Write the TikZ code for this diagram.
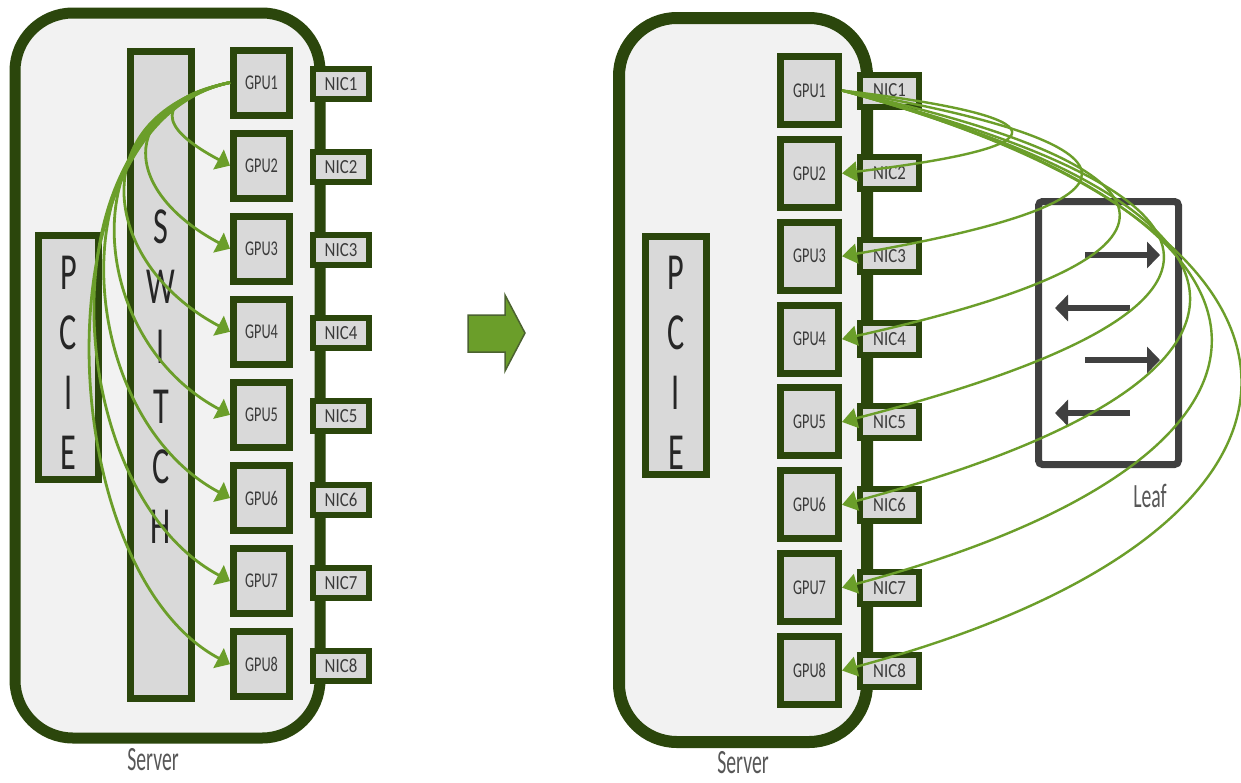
\documentclass[tikz,border=0pt]{standalone}
\usepackage{fontspec}
\setmainfont{Carlito}
\newfontfamily\gpuf[FakeStretch=0.68]{Carlito}
\newfontfamily\nicf[FakeStretch=0.84]{Carlito}
\newfontfamily\lblf[FakeStretch=0.58]{Carlito}
\newfontfamily\bigf[FakeStretch=0.62]{Carlito}
\usetikzlibrary{arrows.meta}
\definecolor{dg}{RGB}{43,70,12}
\definecolor{gr}{RGB}{107,158,42}
\definecolor{boxfill}{RGB}{217,217,217}
\definecolor{srvfill}{RGB}{242,242,242}
\definecolor{txt}{RGB}{58,58,58}
\definecolor{leafc}{RGB}{64,64,64}
\begin{document}
\begin{tikzpicture}[x=1pt,y=-1pt,
  srv/.style={draw=dg, fill=srvfill, rounded corners=58pt, inner sep=0pt},
  box/.style={draw=dg, fill=boxfill, inner sep=0pt, text=txt},
  gpuL/.style={box, line width=7pt, minimum width=56pt, minimum height=65pt, font=\gpuf\fontsize{21}{21}\selectfont},
  nicL/.style={box, line width=6pt, minimum width=56pt, minimum height=30pt, font=\nicf\fontsize{20}{20}\selectfont},
  gpuR/.style={box, line width=7pt, minimum width=58pt, minimum height=68pt, font=\gpuf\fontsize{21}{21}\selectfont},
  nicR/.style={box, line width=6pt, minimum width=59pt, minimum height=32pt, font=\nicf\fontsize{20}{20}\selectfont},
  tall/.style={box, line width=7pt},
  bigtxt/.style={align=center, text=black!85, inner sep=0pt, font=\bigf\fontsize{52}{60}\selectfont},
  lbl/.style={text=txt!85, inner sep=0pt, font=\lblf\fontsize{34}{34}\selectfont},
  gcurveL/.style={draw=gr, line width=2.8pt, -{Triangle[length=13pt, width=22pt]}},
  gcurveR/.style={draw=gr, line width=2.4pt, -{Triangle[length=15pt, width=20pt]}},
  leafarrow/.style={draw=leafc, line width=6pt, -{Triangle[length=13pt, width=26pt]}}
]
\useasboundingbox (0,0) rectangle (1241,782);
\fill[white] (0,0) rectangle (1241,782);

% ---------------- left server ----------------
\node[srv, line width=11pt, minimum width=305pt, minimum height=725pt] (srvL) at (167.5,375.5) {};
\node[tall, minimum width=60pt, minimum height=244pt] (pcieL) at (68.5,357.5) {};
\node[bigtxt] (pcieLt) at (68.5,363) {P\\C\\I\\E};
\node[tall, minimum width=61pt, minimum height=647pt] (sw) at (161,375) {};
\node[bigtxt] (swt) at (161,377) {S\\W\\I\\T\\C\\H};
\foreach \i in {1,...,8} {
  \pgfmathsetmacro\yl{82.5+83.1*(\i-1)}
  \node[gpuL] (lg\i) at (261.5,\yl) {GPU\i};
  \node[nicL] (ln\i) at (341,\yl+1.5) {NIC\i};
}
\foreach \i/\h in {2/81,3/119,4/150,5/164,6/179,7/193,8/200}
  \draw[gcurveL] (lg1.west) .. controls +(-0.978*\h,0.208*\h) and +(-0.883*\h,-0.469*\h) .. (lg\i.west);
\node[lbl] (srvLl) at (153,760) {Server};

% ---------------- middle arrow ----------------
\draw[fill=gr, draw=dg!85, line width=1.5pt] (468,315) -- (505,315) -- (505,295) -- (525,333) -- (505,371) -- (505,352) -- (468,352) -- cycle;

% ---------------- right server ----------------
\node[srv, line width=12pt, minimum width=248pt, minimum height=724pt] (srvR) at (743,380) {};
\node[tall, minimum width=61pt, minimum height=238pt] (pcieR) at (676,355.5) {};
\node[bigtxt] (pcieRt) at (676,363) {P\\C\\I\\E};
\foreach \i in {1,...,8} {
  \pgfmathsetmacro\yr{90.5+82.86*(\i-1)}
  \node[gpuR] (rg\i) at (809.5,\yr) {GPU\i};
  \node[nicR] (rn\i) at (889.5,\yr) {NIC\i};
}
\node[draw=leafc, line width=7pt, rounded corners=4pt, minimum width=140pt, minimum height=263pt, inner sep=0pt] (leaf) at (1108.5,333) {};
\draw[leafarrow] ([shift={(-23.5,-78)}]leaf.center) -- ([shift={(51.5,-78)}]leaf.center);
\draw[leafarrow] ([shift={(21.5,-25)}]leaf.center) -- ([shift={(-53.5,-25)}]leaf.center);
\draw[leafarrow] ([shift={(-23.5,27)}]leaf.center) -- ([shift={(51.5,27)}]leaf.center);
\draw[leafarrow] ([shift={(21.5,80)}]leaf.center) -- ([shift={(-53.5,80)}]leaf.center);
\node[lbl] (leafl) at (1150,496) {Leaf};
% i / h / sin(angle) / cos(angle)
\foreach \i/\h/\s/\c in {2/226/0.119/0.993,3/322/0.169/0.986,4/377/0.217/0.976,5/441/0.25/0.968,6/478/0.259/0.966,7/508/0.259/0.966,8/549/0.259/0.966}
  \draw[gcurveR] (rg1.east) .. controls +(\c*\h,\s*\h) and +(\c*\h,-\s*\h) .. (rg\i.east);
\node[lbl] (srvRl) at (743,763) {Server};
\end{tikzpicture}
\end{document}
